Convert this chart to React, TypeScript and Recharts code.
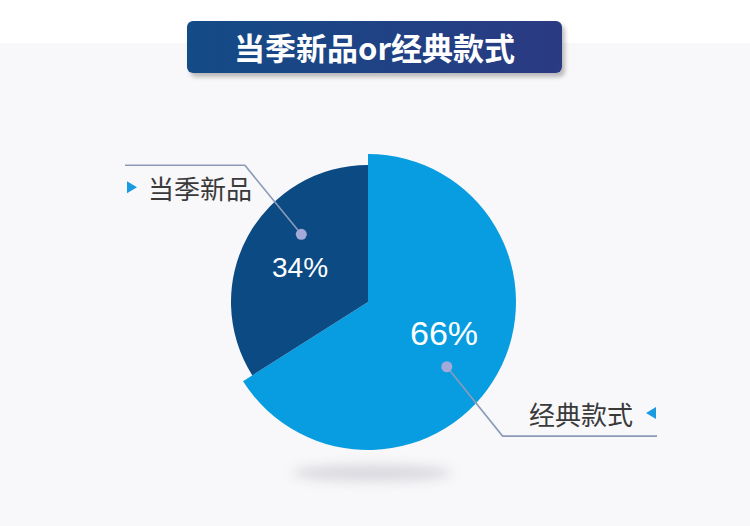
import React from 'react';
import { PieChart, Pie, Cell } from 'recharts';

// chart data
const categories = ['经典款式', '当季新品'];
const shares = [66, 34];
const percentLabels = ['66%', '34%'];
const chartTitle = '当季新品or经典款式';

const data = categories.map((name, i) => ({ name, value: shares[i] }));

const BIG = '#079de0';
const DARK = '#0c4a84';
const LINE = '#8b9bb7';
const DOT = '#a3a9d8';
const FONT = "'Noto Sans CJK SC', 'Liberation Sans', sans-serif";

// label placement per slice (angle offsets from the slice mid angle, radii)
const labelLayout = [
  { pctR: 82, pctOff: 6.8, pctSize: 34, dotOff: -10.6, dotR: 102, elbowOff: -16.1, elbowR: 190, endDx: 289, side: 'right' },
  { pctR: 76, pctOff: 2.2, pctSize: 28, dotOff: -16.6, dotR: 95, elbowOff: -19.2, elbowR: 184, endDx: -243, side: 'left' },
];

const RAD = Math.PI / 180;
const polar = (cx: number, cy: number, r: number, a: number) => ({
  x: cx + r * Math.cos(-a * RAD),
  y: cy + r * Math.sin(-a * RAD),
});

const renderLabel = (props: any) => {
  const { cx, cy, midAngle, index } = props;
  const l = labelLayout[index];
  const pct = polar(cx, cy, l.pctR, midAngle + l.pctOff);
  const dot = polar(cx, cy, l.dotR, midAngle + l.dotOff);
  const elbow = polar(cx, cy, l.elbowR, midAngle + l.elbowOff);
  const endX = cx + l.endDx;
  const left = l.side === 'left';
  const textY = left ? elbow.y + 22 : elbow.y - 23;
  const triX = left ? endX + 2 : endX - 1;
  const tri = left
    ? `${triX},${textY - 6} ${triX + 10},${textY} ${triX},${textY + 6}`
    : `${triX},${textY - 6} ${triX - 10},${textY} ${triX},${textY + 6}`;
  return (
    <g key={`lbl-${index}`}>
      <text x={pct.x} y={pct.y} fill="#fff" fontSize={l.pctSize} fontFamily="'Liberation Sans', Arial, sans-serif"
        textAnchor="middle" dominantBaseline="central">
        {percentLabels[index]}
      </text>
      <polyline points={`${dot.x},${dot.y} ${elbow.x},${elbow.y} ${endX},${elbow.y}`} fill="none" stroke={LINE} strokeWidth={1.6} />
      <circle cx={dot.x} cy={dot.y} r={5.5} fill={DOT} />
      <polygon points={tri} fill="#1a9be0" />
      <text x={left ? endX + 23 : endX - 24} y={textY} fill="#3a3a3a" fontSize={26} fontFamily={FONT}
        textAnchor={left ? 'start' : 'end'} dominantBaseline="central">
        {categories[index]}
      </text>
    </g>
  );
};

export default function App() {
  return (
    <div
      style={{
        position: 'absolute',
        left: 0,
        top: 0,
        width: 750,
        height: 526,
        background: 'linear-gradient(#ffffff 0px, #ffffff 43px, #f8f8fa 43px)',
        overflow: 'hidden',
      }}
    >
      <div
        style={{
          position: 'absolute',
          left: 187,
          top: 21,
          width: 375,
          height: 52,
          borderRadius: 6,
          background: 'linear-gradient(90deg, #134b87, #2b3a82)',
          boxShadow: '3px 4px 4px rgba(0,0,0,0.25)',
          color: '#fff',
          fontFamily: FONT,
          fontWeight: 'bold',
          fontSize: 31,
          lineHeight: '52px',
          textAlign: 'center',
        }}
      >
        {chartTitle}
      </div>
      <div
        style={{
          position: 'absolute',
          left: 292,
          top: 465,
          width: 160,
          height: 16,
          borderRadius: '50%',
          background: '#d8d8de',
          filter: 'blur(6px)',
        }}
      />
      <div style={{ position: 'absolute', left: 0, top: 0 }}>
        <PieChart width={750} height={526} margin={{ top: 0, right: 0, bottom: 0, left: 0 }}>
          <Pie
            data={data}
            dataKey="value"
            nameKey="name"
            cx={368}
            cy={302}
            outerRadius={148}
            startAngle={90}
            endAngle={-270}
            stroke="none"
            isAnimationActive={false}
          >
            {data.map((d, i) => (
              <Cell key={d.name} fill={i === 0 ? BIG : 'none'} />
            ))}
          </Pie>
          <Pie
            data={data}
            dataKey="value"
            nameKey="name"
            cx={368}
            cy={302}
            outerRadius={137}
            startAngle={90}
            endAngle={-270}
            stroke="none"
            label={renderLabel}
            labelLine={false}
            isAnimationActive={false}
          >
            {data.map((d, i) => (
              <Cell key={d.name} fill={i === 1 ? DARK : 'none'} />
            ))}
          </Pie>
        </PieChart>
      </div>
    </div>
  );
}
